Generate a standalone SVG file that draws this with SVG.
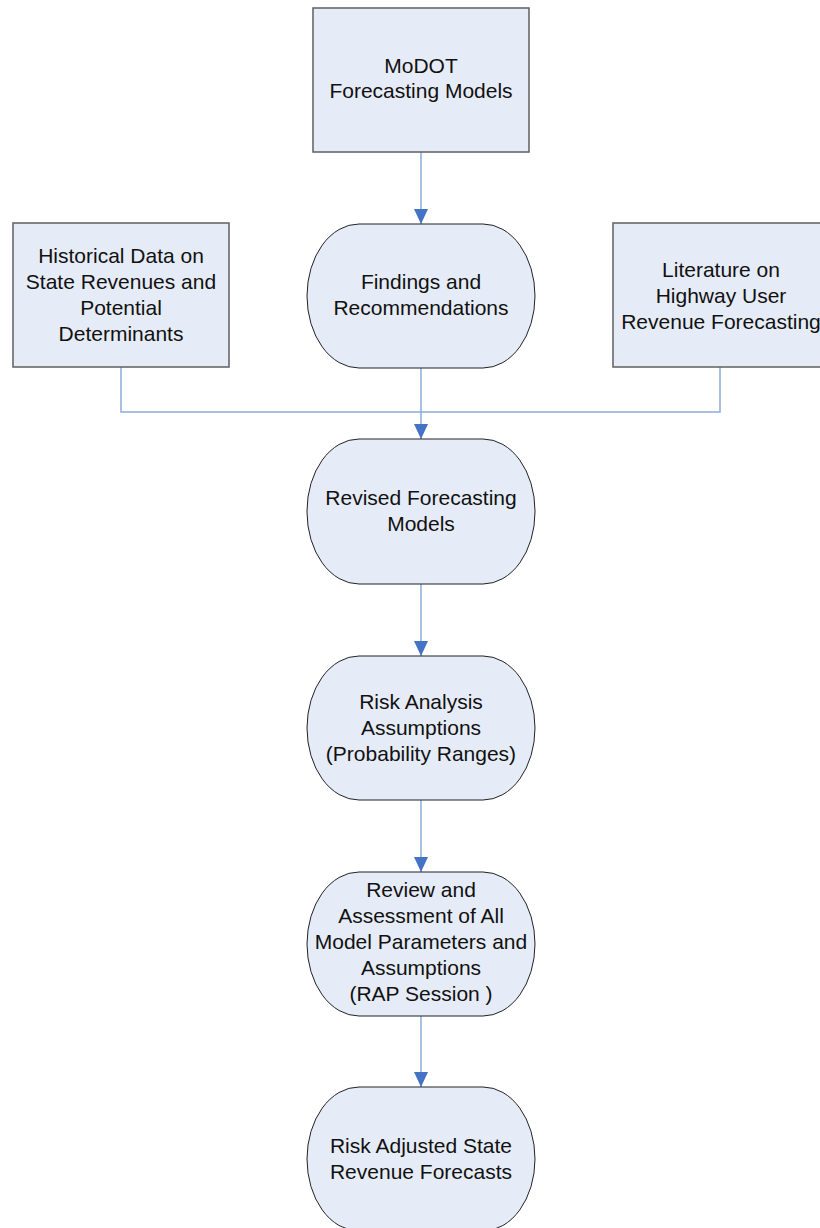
<svg xmlns="http://www.w3.org/2000/svg" width="820" height="1228" viewBox="0 0 820 1228">
  <style>
    .box { fill: #e6ecf7; stroke: #5f5f5f; stroke-width: 1.5; }
    .term { fill: #e6ecf7; stroke: #222222; stroke-width: 1; }
    .lbl { font-family: "Liberation Sans", Arial, sans-serif; font-size: 21px; fill: #111111; text-anchor: middle; }
    .wire { fill: none; stroke: #8eaadb; stroke-width: 1.5; }
  </style>
  <defs>
    <marker id="arrow" markerWidth="14" markerHeight="15" refX="7" refY="15" orient="auto" markerUnits="userSpaceOnUse" viewBox="0 0 14 15">
      <path d="M0,0 L14,0 L7,15 Z" fill="#4472c4" transform="rotate(0)"/>
    </marker>
  </defs>
  <rect width="820" height="1228" fill="#ffffff"/>

  <g id="connectors">
    <path class="wire" d="M421,152 V224"/>
    <path d="M414,209 L428,209 L421,224 Z" fill="#4472c4"/>
    <path class="wire" d="M121,367 V412 H720 V367"/>
    <path class="wire" d="M421,368 V439"/>
    <path d="M414,424 L428,424 L421,439 Z" fill="#4472c4"/>
    <path class="wire" d="M421,584 V656"/>
    <path d="M414,641 L428,641 L421,656 Z" fill="#4472c4"/>
    <path class="wire" d="M421,800 V872"/>
    <path d="M414,857 L428,857 L421,872 Z" fill="#4472c4"/>
    <path class="wire" d="M421,1016 V1087"/>
    <path d="M414,1072 L428,1072 L421,1087 Z" fill="#4472c4"/>
  </g>

  <g id="modot-models">
    <rect class="box" x="313" y="8" width="216" height="144"/>
    <text class="lbl" x="421" y="73">MoDOT</text>
    <text class="lbl" x="421" y="98">Forecasting Models</text>
  </g>

  <g id="historical-data">
    <rect class="box" x="13" y="223" width="216" height="144"/>
    <text class="lbl" x="121" y="263">Historical Data on</text>
    <text class="lbl" x="121" y="289">State Revenues and</text>
    <text class="lbl" x="121" y="315">Potential</text>
    <text class="lbl" x="121" y="341">Determinants</text>
  </g>

  <g id="literature">
    <rect class="box" x="613" y="223" width="216" height="144"/>
    <text class="lbl" x="721" y="277">Literature on</text>
    <text class="lbl" x="721" y="303">Highway User</text>
    <text class="lbl" x="721" y="329">Revenue Forecasting</text>
  </g>

  <g id="findings">
    <rect class="term" x="307" y="224" width="228" height="144" rx="52" ry="72"/>
    <text class="lbl" x="421" y="289">Findings and</text>
    <text class="lbl" x="421" y="315">Recommendations</text>
  </g>

  <g id="revised-models">
    <rect class="term" x="307" y="439" width="228" height="145" rx="52" ry="72"/>
    <text class="lbl" x="421" y="505">Revised Forecasting</text>
    <text class="lbl" x="421" y="531">Models</text>
  </g>

  <g id="risk-assumptions">
    <rect class="term" x="307" y="656" width="228" height="144" rx="52" ry="72"/>
    <text class="lbl" x="421" y="709">Risk Analysis</text>
    <text class="lbl" x="421" y="735">Assumptions</text>
    <text class="lbl" x="421" y="761">(Probability Ranges)</text>
  </g>

  <g id="rap-session">
    <rect class="term" x="307" y="872" width="228" height="144" rx="52" ry="72"/>
    <text class="lbl" x="421" y="897">Review and</text>
    <text class="lbl" x="421" y="923">Assessment of All</text>
    <text class="lbl" x="421" y="949">Model Parameters and</text>
    <text class="lbl" x="421" y="975">Assumptions</text>
    <text class="lbl" x="421" y="1001">(RAP Session )</text>
  </g>

  <g id="risk-adjusted-forecasts">
    <rect class="term" x="307" y="1087" width="228" height="144" rx="52" ry="72"/>
    <text class="lbl" x="421" y="1153">Risk Adjusted State</text>
    <text class="lbl" x="421" y="1179">Revenue Forecasts</text>
  </g>
</svg>
